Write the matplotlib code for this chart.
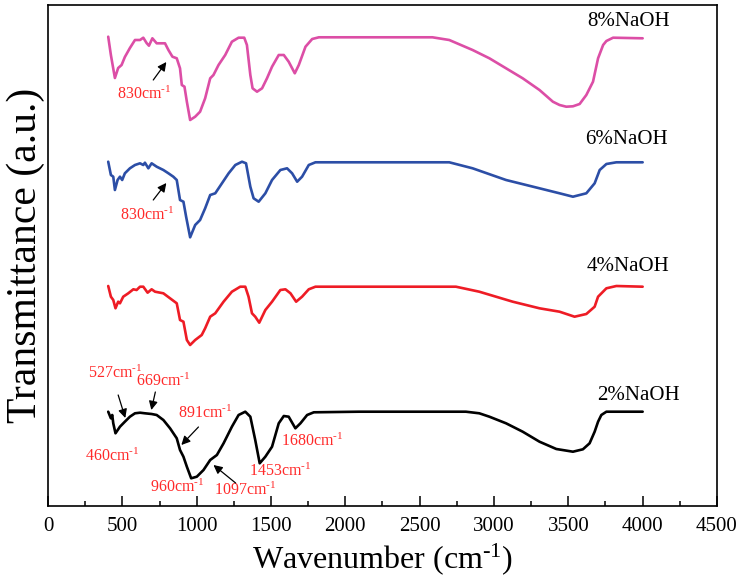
import matplotlib
matplotlib.use("Agg")
import matplotlib.pyplot as plt
from matplotlib.ticker import MultipleLocator

plt.rcParams['font.family'] = ['Liberation Serif', 'DejaVu Serif']
plt.rcParams['mathtext.fontset'] = 'custom'
plt.rcParams['mathtext.rm'] = 'Liberation Serif'
plt.rcParams['mathtext.it'] = 'Liberation Serif:italic'
plt.rcParams['mathtext.bf'] = 'Liberation Serif:bold'

# ---------------- data ----------------
wn_8 = [405, 423, 450, 472, 495, 517, 551, 585, 619, 641, 663, 679, 702, 731, 787, 810, 837, 866, 888, 900,
        918, 934, 956, 990, 1023, 1057, 1091, 1113, 1147, 1192, 1237, 1282, 1320, 1338, 1361, 1376, 1406, 1440,
        1473, 1507, 1552, 1586, 1619, 1660, 1687, 1732, 1777, 1822, 2092, 2586, 2699, 2856, 2969, 3081, 3193,
        3306, 3396, 3441, 3486, 3531, 3576, 3621, 3666, 3700, 3734, 3756, 3801, 4000]
tr_8 = [468.3, 450, 427, 437, 440, 448, 457, 465, 465, 467.3, 462, 459.3, 466.7, 461.7, 461.7, 455, 448.3, 446.7,
        436.7, 420, 418.3, 403.3, 385, 388.3, 393.3, 406.7, 426.7, 430, 440, 450, 463.3, 467.3, 467.3, 460, 430,
        416.7, 413.3, 416.7, 426.7, 438.3, 450, 450, 443.3, 431.7, 440, 458.3, 466, 467.7, 467.7, 467.7, 465, 455,
        446.7, 436.7, 426.7, 415, 403.3, 400, 398.3, 398.7, 401, 410, 423.3, 446.7, 460, 464, 467.3, 466.7]

wn_6 = [405, 423, 439, 450, 468, 484, 499, 517, 551, 585, 619, 641, 652, 675, 697, 731, 776, 810, 843, 866, 888,
        911, 929, 956, 990, 1023, 1057, 1091, 1125, 1170, 1215, 1260, 1305, 1332, 1361, 1383, 1417, 1462, 1507,
        1563, 1608, 1642, 1676, 1709, 1754, 1799, 2092, 2699, 2856, 3081, 3306, 3441, 3531, 3621, 3677, 3711,
        3756, 3823, 4000]
tr_6 = [343.3, 330, 328.3, 315, 325, 328.3, 325, 331.7, 336.7, 340, 341.7, 340, 342.3, 336.7, 341.7, 338.3, 335,
        331.7, 328.3, 325, 305, 303.3, 288.3, 267.7, 280, 285, 296.7, 310, 311.7, 321.7, 331.7, 340, 343.3, 341.7,
        318.3, 306.7, 303.3, 311.7, 325, 335, 336.7, 331.7, 323.3, 328.3, 340, 342.7, 342.7, 342.7, 336.7, 325,
        316.7, 311.7, 308.3, 311.7, 321.7, 335, 341, 342.7, 342.7]

wn_4 = [405, 423, 439, 454, 472, 484, 506, 540, 574, 596, 619, 641, 670, 697, 720, 776, 821, 866, 888, 911, 934,
        956, 990, 1034, 1057, 1091, 1125, 1181, 1237, 1293, 1327, 1349, 1372, 1394, 1421, 1462, 1507, 1563, 1597,
        1631, 1669, 1709, 1754, 1799, 2092, 2744, 2901, 3126, 3306, 3441, 3542, 3621, 3677, 3700, 3756, 3823,
        4000]
tr_4 = [219, 208.3, 205, 196.7, 203.3, 201.7, 208.3, 211.7, 215.7, 215, 218.3, 218.3, 212.3, 215.7, 213.3, 211.7,
        206.7, 201.7, 185, 183.3, 165, 160, 165, 170, 176.7, 188.3, 191.7, 203.3, 213.3, 218.3, 218.3, 208.3,
        191.7, 188.3, 182.3, 195, 203.3, 215, 215.7, 211.7, 203.3, 208.3, 215.7, 218.3, 218.3, 218.3, 213.3,
        203.3, 196.7, 193.3, 188.3, 191, 198.3, 208.3, 216.7, 219, 218.3]

wn_2 = [405, 423, 432, 439, 454, 484, 517, 551, 585, 619, 652, 697, 731, 776, 821, 866, 888, 911, 934, 963, 1001,
        1046, 1091, 1136, 1181, 1237, 1282, 1327, 1361, 1394, 1424, 1462, 1507, 1552, 1586, 1619, 1664, 1698,
        1743, 1788, 2092, 2811, 2901, 2969, 3081, 3193, 3306, 3419, 3531, 3598, 3643, 3677, 3700, 3722, 3756,
        4000]
tr_2 = [93.3, 86.7, 90, 81.7, 71.7, 78.3, 83.3, 88.3, 91.7, 92.3, 91.7, 91, 90, 85, 76.7, 66.7, 55, 48.3, 38.3,
        26.7, 28.3, 35, 45, 50, 61.7, 78.3, 90, 93.3, 88.3, 65, 41.7, 48.3, 58.3, 81.7, 89, 88.3, 76.7, 81.7, 90,
        92.7, 93.3, 93.3, 91.7, 88.3, 81.7, 73.3, 63.3, 56, 53.3, 55.7, 61.7, 73.3, 83.3, 90, 93.3, 93.3]

series_names = ["8%NaOH", "6%NaOH", "4%NaOH", "2%NaOH"]
peak_labels = ["527", "669", "891", "460", "960", "1097", "1453", "1680"]
x_ticks = [0, 500, 1000, 1500, 2000, 2500, 3000, 3500, 4000, 4500]

# ---------------- styling / layout ----------------
colors = ["#dc4ea6", "#2c4ea6", "#ee1c25", "#000000"]
name_pos = [(3906, 484), (3893, 366), (3900, 239), (3974, 110)]
peak_text_pos = [(452, 132), (776, 124), (1059, 92), (432, 49), (870, 18), (1329, 15), (1565, 34), (1774, 64)]
arrows = [((472, 110), (520, 87)), ((722, 113), (695, 95)), ((1012, 78), (897, 60)), ((1262, 22), (1113, 40)),
          ((708, 425), (796, 443)), ((708, 305), (796, 322))]
red830_pos = [(648, 411), (668, 290)]
ann_color = "#ff2a2a"
SUP = r"$^{\text{-1}}$"

fig = plt.figure(figsize=(7.41, 5.77), dpi=100)
ax = fig.add_axes([48 / 741, 1 - 506 / 577, 669 / 741, 501 / 577])

for wn, tr, c in zip([wn_8, wn_6, wn_4, wn_2], [tr_8, tr_6, tr_4, tr_2], colors):
    ax.plot(wn, tr, color=c, lw=1.9, solid_joinstyle='round', solid_capstyle='round')

for name, (x, y) in zip(series_names, name_pos):
    ax.text(x, y, name, fontsize=15, ha='center', va='center')

for lab, (x, y) in zip(peak_labels, peak_text_pos):
    ax.text(x, y, lab + "cm" + SUP, fontsize=11.5, color=ann_color, ha='center', va='center')
for (x, y) in red830_pos:
    ax.text(x, y, "830cm" + SUP, fontsize=11.5, color=ann_color, ha='center', va='center')

for (start, end) in arrows:
    ax.annotate("", xy=end, xytext=start,
                arrowprops=dict(arrowstyle='-|>', color='black', lw=0.9, mutation_scale=13,
                                shrinkA=0, shrinkB=0))

ax.set_xlim(0, 4500)
ax.set_ylim(-1, 500)
ax.set_xticks(x_ticks)
ax.set_xticklabels([str(t) for t in x_ticks])
ax.xaxis.set_minor_locator(MultipleLocator(250))
ax.tick_params(axis='x', which='major', direction='in', length=7, width=1.1, labelsize=15, pad=8)
ax.tick_params(axis='x', which='minor', direction='in', length=3.5, width=1.1)
ax.set_yticks([])
for s in ax.spines.values():
    s.set_linewidth(1.2)

ax.set_xlabel("Wavenumber (cm" + SUP + ")", fontsize=23, labelpad=4)
ax.set_ylabel("Transmittance (a.u.)", fontsize=30, labelpad=2)

fig.savefig("out.png", dpi=100)
